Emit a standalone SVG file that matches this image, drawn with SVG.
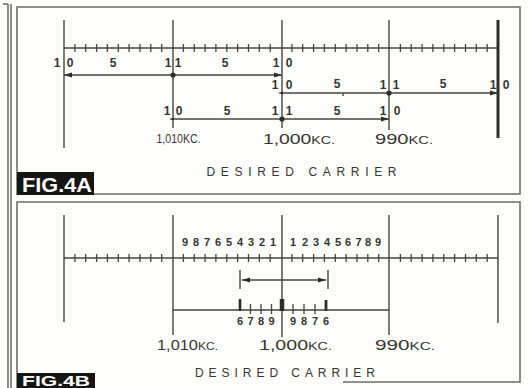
<svg xmlns="http://www.w3.org/2000/svg" xmlns:xlink="http://www.w3.org/1999/xlink" width="531" height="388" viewBox="0 0 531 388">
<style>
.bg{fill:#fdfdfb}
.frame{fill:none;stroke:#6e6e68;stroke-width:1.6}
.ln{fill:none;stroke:#45453e;stroke-width:1.4}
.tk{fill:none;stroke:#45453e;stroke-width:1.3}
.thick{fill:none;stroke:#2e2e28;stroke-width:3}
.t{font-family:"Liberation Sans",Arial,sans-serif;fill:#35352f;text-anchor:middle}
.d{font-size:12px;font-weight:bold}
.d2{font-size:11px;font-weight:bold}
.kc{font-size:15px}
.des{font-size:12px;letter-spacing:3px}
.fig{font-family:"Liberation Sans",Arial,sans-serif;font-weight:bold;fill:#ffffff}
.lab{fill:#151513}
.dot{fill:#2e2e28}
</style>
<defs>
<marker id="ah" markerUnits="userSpaceOnUse" markerWidth="9" markerHeight="6" refX="8" refY="3" orient="auto-start-reverse">
<path d="M0,0.5 L8,3 L0,5.5 z" fill="#2e2e28"/>
</marker>
<marker id="ahs" markerUnits="userSpaceOnUse" markerWidth="6" markerHeight="5" refX="1" refY="2.5" orient="auto-start-reverse">
<path d="M0,1 L5,2.5 L0,4 z" fill="#2e2e28"/>
</marker>
<path id="ticks" d="M74.9,-4V4M85.7,-4V4M96.6,-4V4M107.4,-4V4M118.3,-4V4M129.1,-4V4M140,-4V4M150.8,-4V4M161.7,-4V4M183.4,-4V4M194.2,-4V4M205.1,-4V4M215.9,-4V4M226.8,-4V4M237.6,-4V4M248.5,-4V4M259.3,-4V4M270.2,-4V4M291.9,-4V4M302.7,-4V4M313.6,-4V4M324.4,-4V4M335.3,-4V4M346.1,-4V4M357,-4V4M367.8,-4V4M378.7,-4V4M400.4,-4V4M411.2,-4V4M422.1,-4V4M432.9,-4V4M443.8,-4V4M454.6,-4V4M465.5,-4V4M476.3,-4V4M487.2,-4V4"/>
</defs>
<rect class="bg" x="0" y="0" width="531" height="388"/>
<g id="frames">
<path class="frame" d="M8,4V388M11,4V388M3,4H8"/>
<path class="frame" d="M17,195V7H520V194H94"/>
<path class="frame" d="M17,388V202H520V382H343"/>
</g>
<g id="panelA">
<g id="scaleA">
<path class="ln" d="M64,48H498"/>
<use xlink:href="#ticks" href="#ticks" class="tk" y="48"/>
<path class="ln" d="M64,20V148M173,20V128M282,20V128M389,20V130"/>
<path class="thick" d="M498,20V138"/>
</g>
<g id="connectors">
<path class="ln" d="M64,75H282" marker-start="url(#ah)" marker-end="url(#ah)"/>
<path class="ln" d="M282,93H498" marker-start="url(#ahs)" marker-end="url(#ah)"/>
<path class="ln" d="M173,119H389" marker-start="url(#ahs)" marker-end="url(#ah)"/>
<path class="tk" d="M343,93v3"/>
<circle class="dot" cx="173" cy="75" r="2.6"/>
<circle class="dot" cx="389" cy="93" r="2.6"/>
<circle class="dot" cx="282" cy="119" r="2.6"/>
</g>
<g id="row1labels" class="t d">
<text x="57" y="67">1</text><text x="70" y="67">0</text>
<text x="113" y="67">5</text>
<text x="168" y="67">1</text><text x="178" y="67">1</text>
<text x="225" y="67">5</text>
<text x="276" y="67">1</text><text x="289" y="67">0</text>
</g>
<g id="row2labels" class="t d">
<text x="275" y="89">1</text><text x="289" y="89">0</text>
<text x="337" y="88">5</text>
<text x="383" y="89">1</text><text x="396" y="89">1</text>
<text x="443" y="88">5</text>
<text x="493" y="89">1</text><text x="506" y="89">0</text>
</g>
<g id="row3labels" class="t d">
<text x="167" y="115">1</text><text x="179" y="115">0</text>
<text x="227" y="115">5</text>
<text x="275" y="115">1</text><text x="289" y="115">1</text>
<text x="337" y="115">5</text>
<text x="383" y="115">1</text><text x="397" y="115">0</text>
</g>
<g id="freqA" class="t">
<text x="178.5" y="143" font-size="12" textLength="44" lengthAdjust="spacingAndGlyphs">1,010KC.</text>
<text x="299" y="144" class="kc" textLength="72" lengthAdjust="spacingAndGlyphs">1,000<tspan font-size="11">KC.</tspan></text>
<text x="404" y="144" class="kc" textLength="58" lengthAdjust="spacingAndGlyphs">990<tspan font-size="11">KC.</tspan></text>
</g>
<text id="desiredA" class="t des" x="303" y="176" textLength="193" lengthAdjust="spacing">DESIRED  CARRIER</text>
<g id="figA">
<rect class="lab" x="17" y="172" width="77" height="23"/>
<text class="fig" x="22" y="192" font-size="20" textLength="70" lengthAdjust="spacingAndGlyphs">FIG.4A</text>
</g>
</g>
<g id="panelB">
<g id="scaleB">
<path class="ln" d="M64,258H498"/>
<use xlink:href="#ticks" href="#ticks" class="tk" y="258"/>
<path class="ln" d="M64,215V322M173,215V335M282,215V337M389,215V335M498,215V323"/>
</g>
<g id="digitsTop" class="t d2">
<text x="185" y="246">9</text><text x="196" y="246">8</text><text x="207" y="246">7</text><text x="218" y="246">6</text><text x="229" y="246">5</text><text x="240" y="246">4</text><text x="251" y="246">3</text><text x="262" y="246">2</text><text x="273" y="246">1</text>
<text x="293" y="246">1</text><text x="305" y="246">2</text><text x="316" y="246">3</text><text x="327" y="246">4</text><text x="338" y="246">5</text><text x="348" y="246">6</text><text x="358.5" y="246">7</text><text x="368" y="246">8</text><text x="378" y="246">9</text>
</g>
<g id="connectorsB">
<path class="ln" d="M242,280H326" marker-start="url(#ah)" marker-end="url(#ah)"/>
<path class="ln" d="M240,270V289M328,270V289"/>
<path class="ln" d="M173,310H389"/>
<path class="tk" d="M250.5,304V314M261,304V314M271.5,304V314M293,304V314M304,304V314M315,304V314"/>
<path fill="none" stroke="#2e2e28" stroke-width="2.6" d="M240,299V311"/>
<path fill="none" stroke="#2e2e28" stroke-width="4.5" d="M282,299V311"/>
<path fill="none" stroke="#2e2e28" stroke-width="2.8" d="M326,300V311"/>
</g>
<g id="digitsBottom" class="t d2">
<text x="240" y="325">6</text><text x="250.5" y="325">7</text><text x="261" y="325">8</text><text x="271.5" y="325">9</text>
<text x="293" y="325">9</text><text x="304" y="325">8</text><text x="315" y="325">7</text><text x="326" y="325">6</text>
</g>
<g id="freqB" class="t">
<text x="187.5" y="350" class="kc" textLength="61" lengthAdjust="spacingAndGlyphs">1,010<tspan font-size="11">KC.</tspan></text>
<text x="295.5" y="350" class="kc" textLength="73" lengthAdjust="spacingAndGlyphs">1,000<tspan font-size="11">KC.</tspan></text>
<text x="405" y="350" class="kc" textLength="60" lengthAdjust="spacingAndGlyphs">990<tspan font-size="11">KC.</tspan></text>
</g>
<text id="desiredB" class="t des" x="286.5" y="377" textLength="183" lengthAdjust="spacing">DESIRED  CARRIER</text>
<g id="figB">
<rect class="lab" x="17" y="373" width="78" height="15"/>
<text class="fig" x="22" y="386" font-size="14" textLength="68" lengthAdjust="spacingAndGlyphs">FIG.4B</text>
</g>
</g>
</svg>
